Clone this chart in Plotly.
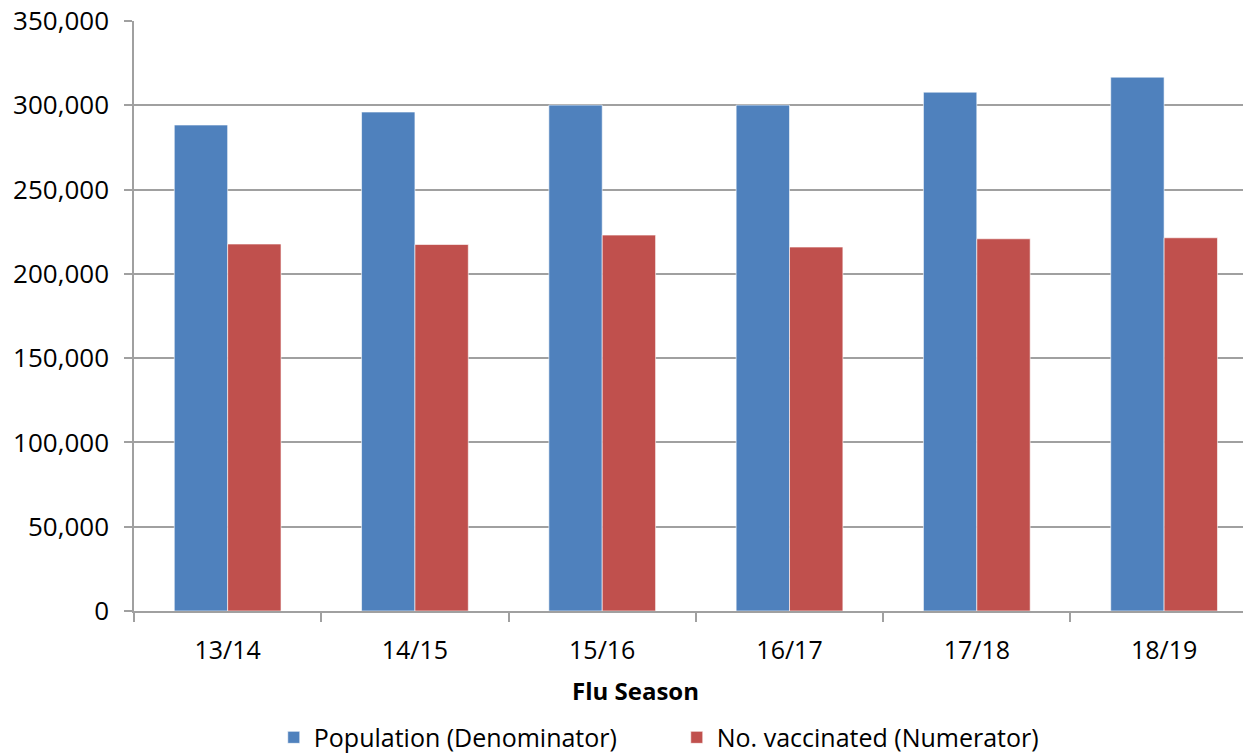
import plotly.graph_objects as go

SEASONS = ['13/14', '14/15', '15/16', '16/17', '17/18', '18/19']
POPULATION = [288300, 296000, 300100, 300100, 307800, 316700]
VACCINATED = [217700, 217400, 223000, 215900, 220800, 221400]

BLUE = '#4F81BD'
RED = '#C0504D'
GRID = '#A0A0A0'
FONT = 'Open Sans'

fig = go.Figure()
fig.add_trace(go.Bar(
    x=SEASONS, y=POPULATION,
    name='Population (Denominator)',
    marker=dict(color=BLUE, line=dict(color='rgba(255,255,255,0.6)', width=1)),
))
fig.add_trace(go.Bar(
    x=SEASONS, y=VACCINATED,
    name='No. vaccinated (Numerator)',
    marker=dict(color=RED, line=dict(color='rgba(255,255,255,0.6)', width=1)),
))

# the x-axis title sits left of the plot centre (plot area runs past the right edge)
fig.add_annotation(
    text='<b>Flu Season</b>',
    xref='paper', yref='paper',
    x=0.4494, y=-0.134,
    xanchor='center', yanchor='middle',
    showarrow=False,
    font=dict(size=24),
)

# page body adds an 8px margin, so the figure is a bit smaller than the window
fig.update_layout(
    width=1243, height=746,
    margin=dict(l=126, r=0, t=13, b=143),
    plot_bgcolor='white',
    paper_bgcolor='white',
    barmode='group',
    bargap=0.43,
    bargroupgap=0,
    font=dict(family=FONT, size=26, color='black'),
    xaxis=dict(
        type='category',
        range=[-0.5, 5.464],
        automargin=False,
        showgrid=False,
        showline=True, linecolor=GRID, linewidth=1.5,
        ticks='outside', tickson='boundaries', ticklen=9,
        tickcolor=GRID, tickwidth=1.5,
        ticklabelstandoff=16,
        tickfont=dict(size=25),
    ),
    yaxis=dict(
        range=[0, 350000],
        dtick=50000,
        tickformat=',',
        automargin=False,
        showgrid=True, gridcolor=GRID, gridwidth=1.5,
        showline=True, linecolor=GRID, linewidth=1.5,
        ticks='outside', ticklen=8, tickcolor=GRID, tickwidth=1.5,
        ticklabelstandoff=10,
        ticklabeloverflow='allow',
        zeroline=False,
        tickfont=dict(size=26),
    ),
    legend=dict(
        orientation='h',
        xref='container', yref='container',
        x=0.2138, xanchor='left',
        y=0.022, yanchor='middle',
        font=dict(size=25),
        entrywidth=358,
        traceorder='normal',
    ),
)

fig.write_html('out.html')
